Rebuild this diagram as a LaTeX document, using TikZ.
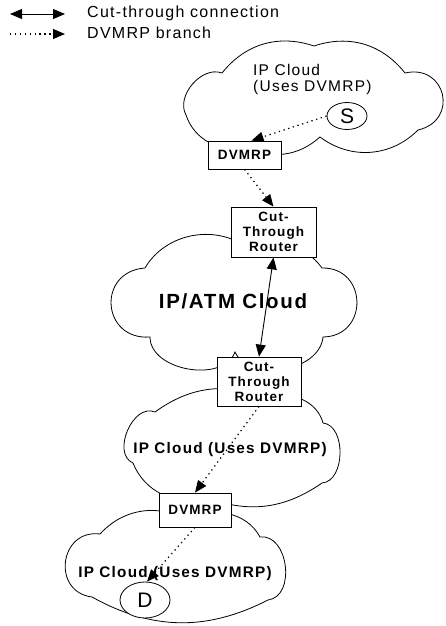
\documentclass[tikz,border=0pt]{standalone}
\usepackage{fontspec}
\setmainfont{Liberation Sans}[LetterSpace=8]
\usetikzlibrary{arrows.meta,shapes.geometric}

\tikzset{
  cloudline/.style={line width=0.8pt},
  boxnode/.style={draw, line width=0.8pt, fill=white, align=center, inner sep=0pt,
    font=\fontsize{13.5}{15}\selectfont\bfseries},
  endnode/.style={draw, ellipse, line width=0.8pt, fill=white, inner sep=0pt,
    font=\fontsize{21}{24}\selectfont},
  cloudtext/.style={inner sep=0pt, font=\fontsize{15.3}{18}\selectfont\bfseries},
  legendtext/.style={inner sep=0pt, anchor=base west, font=\fontsize{16}{19}\selectfont},
  branch/.style={line width=1.2pt, dash pattern=on 1.3pt off 3.6pt,
    -{Triangle[length=12pt,width=10pt]}},
  cutthrough/.style={line width=0.9pt,
    {Triangle[length=12pt,width=10pt]}-{Triangle[length=12pt,width=10pt]}},
}

\begin{document}
\begin{tikzpicture}[x=1pt,y=-1pt]
\useasboundingbox (0,0) rectangle (445,626);

% Legend
\coordinate (cutA) at (10,14);
\coordinate (cutB) at (65,14);
\coordinate (brA) at (10,34);
\coordinate (brB) at (65,34);
\draw[cutthrough] (cutA) -- (cutB);
\draw[branch] (brA) -- (brB);
\node[legendtext] (cutlabel) at (87,18) {Cut-through connection};
\node[legendtext] (brlabel) at (87,39) {DVMRP branch};

% Source cloud
\draw[cloudline] (186,115) to[bend left=70] (222,73) to[bend left=35] (314,46)
  to[bend left=35] (405,73) to[bend left=90,looseness=1.85] (418,130)
  to[bend left=41] (320,137) to[bend left=35] (245,146) to[bend left=44] (186,115);

% IP/ATM cloud
\draw[cloudline] (145,268) to[bend left=50] (250,250) to[bend left=40] (322,268)
  to[bend left=90,looseness=1.7] (323,337) to[bend left=75] (235,352)
  to[bend left=80] (150,337) to[bend left=90,looseness=1.8] (145,268);

% Middle cloud
\draw[cloudline] (155,412) to[bend left=30] (270,400) to[bend left=52] (323,423)
  to[bend left=85] (322,483) to[bend left=28] (205,497) to[bend left=43] (133,463)
  to[bend left=90,looseness=1.1] (155,412);

% Destination cloud
\draw[cloudline] (100,534) to[bend left=40] (190,522) to[bend left=50] (260,537)
  to[bend left=90,looseness=1.15] (268,600) to[bend left=28] (92,597)
  to[bend left=90,looseness=1.65] (100,534);

% Cloud labels
\node[legendtext, font=\fontsize{15.5}{18}\selectfont] (srcname) at (253,75) {IP Cloud};
\node[legendtext, font=\fontsize{15.5}{18}\selectfont] (srcuses) at (253,91) {(Uses DVMRP)};
\node[cloudtext, font=\fontsize{20.5}{23}\selectfont\bfseries] (atmname) at (233,301.5) {IP/ATM Cloud};
\node[cloudtext, anchor=base] (midname) at (230,453) {IP Cloud (Uses DVMRP)};
\node[cloudtext, anchor=base] (dstname) at (175,577) {IP Cloud (Uses DVMRP)};

% Routers
\node[boxnode, minimum width=73pt, minimum height=28pt] (dvsrc) at (244.5,155) {DVMRP};
\node[boxnode, minimum width=85pt, minimum height=50pt] (ctrtop) at (273.5,232) {Cut-\\Through\\Router};
\node[boxnode, minimum width=84pt, minimum height=49pt] (ctrbot) at (259,381.5) {Cut-\\Through\\Router};
\node[boxnode, minimum width=72pt, minimum height=34pt] (dvdst) at (195,510) {DVMRP};

% Hosts
\node[endnode, minimum width=40pt, minimum height=27pt] (src) at (347,116) {S};
\node[endnode, minimum width=50pt, minimum height=36pt] (dst) at (145,600) {D};

% Branches
\draw[branch] (src.west) -- ([xshift=7pt]dvsrc.north);
\draw[branch] (dvsrc.south) -- (ctrtop.north);
\draw[cutthrough] (ctrtop.south) -- (ctrbot.north);
\draw[branch] (ctrbot.south) -- (dvdst.north);
\draw[branch] (dvdst.south) -- ([xshift=2pt]dst.north);

\end{tikzpicture}
\end{document}
